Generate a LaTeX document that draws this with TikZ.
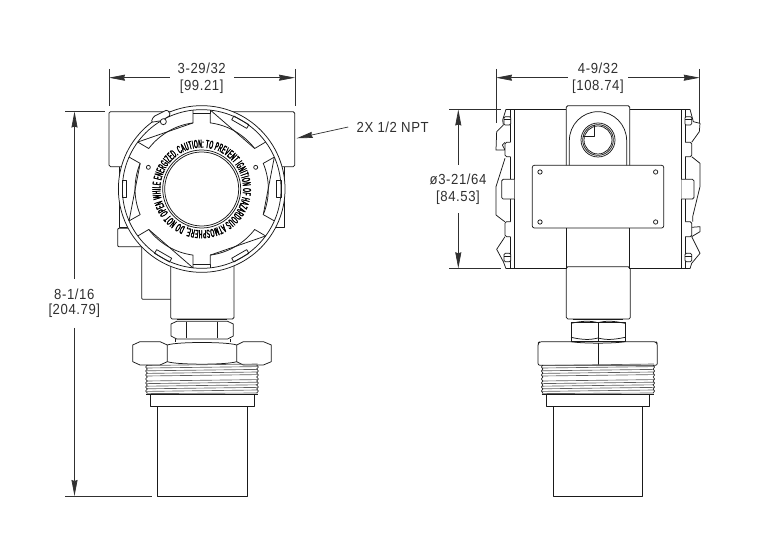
\documentclass[tikz,border=0pt]{standalone}
\usepackage{fontspec}
\usetikzlibrary{arrows.meta,decorations.text}
\newfontfamily\dimfont[LetterSpace=4,FakeStretch=0.9]{Liberation Sans}
\newfontfamily\ringfont[FakeStretch=0.42,FakeBold=2.5]{Liberation Sans}
\definecolor{ink}{HTML}{1A1A1A}
\definecolor{dimink}{HTML}{303030}
\tikzset{
  part/.style={draw=ink,line width=0.75pt,line join=round},
  partw/.style={part,fill=white},
  dimline/.style={draw=dimink,line width=0.7pt},
  dimarrow/.style={dimline,-{Stealth[length=16pt,width=6pt,inset=1pt]}},
  dimtext/.style={inset sep,font=\dimfont\fontsize{14.6}{15}\selectfont,text=dimink},
  inset sep/.style={inner sep=0pt,outer sep=0pt,anchor=center},
  threadline/.style={draw=ink!70,line width=0.65pt},
}
\newcommand{\threadband}[2]{%
  \foreach \ty/\tz in {365.5/364,368/366.6,370.8/369.4,373.4/372,376/374.6,381/379.6,383.6/382.2,386.2/384.8,388.8/387.4,391.4/390,393.6/393}{
    \draw[threadline] (#1,\ty) -- (#2,\tz);
  }
  \foreach \ty in {367,371,375,379,383,387,391}{
    \draw[part,line width=0.6pt] (#1+0.8,\ty-2) .. controls (#1-1.5,\ty-1) and (#1-1.5,\ty+1) .. (#1+0.8,\ty+2);
    \draw[part,line width=0.6pt] (#2-0.8,\ty-2) .. controls (#2+1.5,\ty-1) and (#2+1.5,\ty+1) .. (#2-0.8,\ty+2);
  }
}
\begin{document}
\begin{tikzpicture}[x=1pt,y=-1pt]
\useasboundingbox (0,0) rectangle (768,534);
\fill[white] (0,0) rectangle (768,534);

%% ---------- LEFT VIEW: housing and neck ----------
\begin{scope}[shift={(90,90)},scale=1/3]
  \draw[part,rounded corners=1.5pt] (100,230)--(57,230)--(57,65)--(614,65)--(614,230)--(575,230);
  \draw[part] (88,230)--(88,413)--(125,413);
  \draw[part] (583,230)--(583,413)--(550,413);
  \draw[part,rounded corners=1pt] (125,415)--(83,415)--(83,470)--(170,470);
  \draw[part,rounded corners=1pt] (155,470)--(155,628)--(242,628);
  \draw[part,rounded corners=1.5pt] (242,520)--(242,687)--(432,687)--(432,520);
\end{scope}

%% ---------- LEFT VIEW: round cover ----------
\begin{scope}[shift={(201.7,189)},x=1pt,y=1pt,scale=1/3]
  \draw[partw] (0,0) circle[radius=250];
  \draw[part] (0,0) circle[radius=238];
  \foreach \k in {0,...,5}{
    \begin{scope}[rotate=60*\k]
      \draw[part] (37.4:200) -- (36.3:238);
      \draw[part] (83.7:238) -- (82.6:200) arc[start angle=82.6,end angle=37.4,radius=200];
      \draw[part] (83.7:238) -- (37.4:200);
    \end{scope}
  }
  \foreach \k in {0,2,3,4,5}{
    \begin{scope}[rotate=60*\k-30]
      \draw[part] (-26,225) rectangle (26,238);
    \end{scope}
  }
  \draw[part] (-26,226) -- (26,226);
  \draw[part] (-26,-226) -- (26,-226);
  % locking tab
  \draw[partw,rounded corners=1.5pt] (-152,200) -- (-145,217) -- (-103,238) -- (-93,222) -- (-120,205) -- cycle;
  \draw[partw] (-115,202) circle[radius=9];
  % holes
  \draw[part] (-160,65) circle[radius=6];
  \draw[part] (162,65) circle[radius=6];
  % glass
  \draw[part] (0,0) circle[radius=117];
  \draw[part] (0,0) circle[radius=111];
  % warning ring
  \path[decorate,decoration={text along path,text align={fit to path},
    text={|\ringfont\fontsize{11.5}{12}\selectfont|CAUTION: TO PREVENT IGNITION OF HAZARDOUS ATMOSPHERE, DO NOT OPEN WHILE ENERGIZED.}}]
    (122:124) arc[start angle=122,end angle=-236,radius=124];
\end{scope}

%% ---------- LEFT VIEW: process connection ----------
\begin{scope}[shift={(110,280)},scale=1/3]
  \draw[part] (200,118)--(352,118);
  \draw[part] (183,132)--(200,124)--(353,124)--(370,132)--(370,168)--(353,177)--(200,177)--(183,168)--cycle;
  \draw[part] (228,126)--(228,175);
  \draw[part] (323,126)--(323,175);
  \draw[part] (195,177)--(195,185);
  \draw[part] (360,177)--(360,185);
  \draw[part] (68,195)--(90,185)--(150,185)--(172,195)--(172,245)--(150,255)--(90,255)--(68,245)--cycle;
  \draw[part] (484,195)--(460,185)--(400,185)--(380,195)--(380,245)--(400,255)--(460,255)--(484,245)--cycle;
  \draw[part] (172,195) .. controls (200,185) and (352,185) .. (380,195);
  \draw[part] (172,245) .. controls (200,255) and (352,255) .. (380,245);
\end{scope}
\threadband{146.5}{257.5}
\draw[part] (146,394.2) -- (258.3,394.2);
\draw[part] (150.7,394.2) -- (150.7,406) -- (254,406) -- (254,394.2);
\draw[part] (157.3,406) -- (157.3,496) -- (247,496) -- (247,406);

%% ---------- RIGHT VIEW: housing ----------
\begin{scope}[shift={(470,90)},scale=1/3]
  % body
  \draw[part] (108,58)--(289,58);
  \draw[part] (479,58)--(660,58);
  \draw[part] (108,536)--(289,536);
  \draw[part] (479,536)--(660,536);
  \draw[part,line width=1pt] (133,58)--(133,536);
  \draw[part,line width=1pt] (634,58)--(634,536);
  \draw[part] (122,58)--(122,157);
  \draw[part] (122,200)--(122,268);
  \draw[part] (122,327)--(122,395);
  \draw[part] (122,440)--(122,536);
  \draw[part] (645,58)--(645,157);
  \draw[part] (645,200)--(645,268);
  \draw[part] (645,327)--(645,395);
  \draw[part] (645,440)--(645,536);
  % left profile
  \draw[part] (108,58)--(98,90)--(100,105)--(80,125)--(78,180)--(105,180)--(97,165)--(105,157);
  \draw[part] (105,205)--(78,290)--(78,375)--(100,392)--(105,395);
  \draw[part] (105,440)--(80,478)--(100,515)--(108,536);
  % right profile
  \draw[part] (660,58)--(670,95)--(690,100)--(688,125)--(665,157);
  \draw[part] (665,200)--(690,220)--(690,290)--(668,380)--(668,395);
  \draw[part] (665,412)--(690,410)--(690,425)--(665,440);
  \draw[part] (665,440)--(690,490)--(665,520)--(660,536);
  % tabs
  \draw[partw,rounded corners=1.5pt] (122,157)--(105,157)--(105,200)--(122,200);
  \draw[partw,rounded corners=1.5pt] (122,395)--(105,395)--(105,440)--(122,440);
  \draw[partw,rounded corners=1.5pt] (133,268)--(95,268)--(95,327)--(133,327);
  \draw[partw,rounded corners=1.5pt] (645,157)--(665,157)--(665,200)--(645,200);
  \draw[partw,rounded corners=1.5pt] (645,395)--(665,395)--(665,440)--(645,440);
  \draw[partw,rounded corners=1.5pt] (634,268)--(672,268)--(672,327)--(634,327);
  % bolts
  \foreach \bx/\by in {102/80,102/490,645/80,645/490}{
    \draw[partw,rounded corners=1.2pt] (\bx,\by) rectangle ++(20,25);
    \draw[part] (\bx,\by+8) -- ++(20,0);
  }
  % boss
  \draw[partw,rounded corners=1.5pt] (289,228)--(289,47)--(479,47)--(479,228);
  \draw[part] (298,228)--(298,152) arc[start angle=180,end angle=0,x radius=86,y radius=-87]--(470,228);
  \draw[part] (384,150) circle[radius=51];
  \draw[part] (384,150) circle[radius=46];
  \draw[part] (384,150) circle[radius=42];
  \draw[part] (374,105)--(374,138)--(338,138);
  % plate
  \draw[partw,rounded corners=2pt] (187,226) rectangle (581,414);
  \foreach \hx/\hy in {210/246,557/246,210/396,557/396}{
    \draw[part] (\hx,\hy) circle[radius=6.5];
  }
  % neck
  \draw[part] (289,414)--(289,536);
  \draw[part] (479,414)--(479,536);
  \draw[part,rounded corners=1.5pt] (289,536)--(289,530)--(479,530)--(479,536);
  \draw[part,rounded corners=1.5pt] (289,536)--(289,687)--(481,687)--(481,536);
\end{scope}

%% ---------- RIGHT VIEW: process connection ----------
\begin{scope}[shift={(520,280)},scale=1/3]
  \draw[part] (158,118)--(310,118);
  \draw[part] (153,126) rectangle (315,185);
  \draw[part] (153,130) .. controls (190,122) and (210,122) .. (234,128) .. controls (258,122) and (278,122) .. (315,130);
  \draw[part] (153,172) .. controls (190,180) and (210,180) .. (234,174) .. controls (258,180) and (278,180) .. (315,172);
  \draw[part] (234,126)--(234,185);
  \draw[part,rounded corners=2pt] (54,190)--(54,256)--(412,256)--(412,190)--(408,185)--(58,185)--cycle;
  \draw[part] (153,185) .. controls (190,191) and (278,191) .. (315,185);
  \draw[part] (234,190)--(234,256);
\end{scope}
\threadband{542.2}{653.8}
\draw[part] (541.7,394.2) -- (654.3,394.2);
\draw[part] (546.7,394.2) -- (546.7,406) -- (649.7,406) -- (649.7,394.2);
\draw[part] (553.3,406) -- (553.3,496) -- (642.7,496) -- (642.7,406);

%% ---------- LABELS ----------
\node[dimtext] (wA) at (201.7,68) {3-29/32};
\node[dimtext] (wAm) at (201.7,86.5) {[99.21]};
\node[dimtext] (wB) at (598,68) {4-9/32};
\node[dimtext] (wBm) at (598,86.5) {[108.74]};
\node[dimtext] (hA) at (74.3,294) {8-1/16};
\node[dimtext] (hAm) at (74.3,311) {[204.79]};
\node[dimtext] (hB) at (458,179) {ø3-21/64};
\node[dimtext] (hBm) at (458,197.7) {[84.53]};
\node[dimtext,anchor=west] (npt) at (356.7,127) {2X 1/2 NPT};

%% ---------- DIMENSIONS ----------
\coordinate (wAl) at (109,77.7); \coordinate (wAr) at (295,77.7);
\coordinate (wAgl) at (169.5,77.7); \coordinate (wAgr) at (234,77.7);
\draw[dimline] (109,69) -- (109,106.5);
\draw[dimline] (295,69) -- (295,106.5);
\draw[dimarrow] (wAgl) -- (wAl);
\draw[dimarrow] (wAgr) -- (wAr);

\coordinate (wBl) at (496,77.7); \coordinate (wBr) at (699.7,77.7);
\coordinate (wBgl) at (567.5,77.7); \coordinate (wBgr) at (628,77.7);
\draw[dimline] (496,69) -- (496,123);
\draw[dimline] (699.7,69) -- (699.7,123);
\draw[dimarrow] (wBgl) -- (wBl);
\draw[dimarrow] (wBgr) -- (wBr);

\coordinate (hAt) at (74.5,111.5); \coordinate (hAb) at (74.5,496);
\coordinate (hAgt) at (74.5,279); \coordinate (hAgb) at (74.5,328);
\draw[dimline] (65,111.5) -- (105,111.5);
\draw[dimline] (65,496) -- (151.5,496);
\draw[dimarrow] (hAgt) -- (hAt);
\draw[dimarrow] (hAgb) -- (hAb);

\coordinate (hBt) at (458.3,109.5); \coordinate (hBb) at (458.3,268.3);
\coordinate (hBgt) at (458.3,165); \coordinate (hBgb) at (458.3,213.5);
\draw[dimline] (449,109.5) -- (500.5,109.5);
\draw[dimline] (449,268.3) -- (500.5,268.3);
\draw[dimarrow] (hBgt) -- (hBt);
\draw[dimarrow] (hBgb) -- (hBb);

\coordinate (nptTip) at (296.7,138.3);
\draw[dimarrow] ([xshift=-8.5pt]npt.west) -- (nptTip);
\end{tikzpicture}
\end{document}
